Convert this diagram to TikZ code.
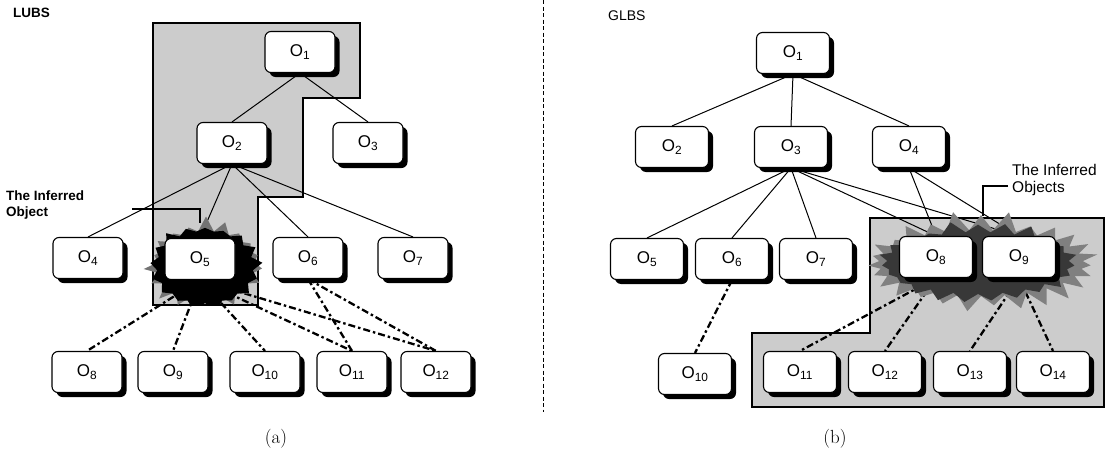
\documentclass[tikz,border=0pt]{standalone}
\usepackage{fontspec}
\newfontfamily\arial{Liberation Sans}
\usetikzlibrary{shapes.symbols,shadows}
\pgfdeclarelayer{bg}
\pgfdeclarelayer{edges}
\pgfdeclarelayer{burst}
\pgfsetlayers{bg,edges,burst,main}
\begin{document}
\begin{tikzpicture}[x=1pt,y=-1pt,
  obj/.style={draw=black,line width=1.1pt,fill=white,rounded corners=6pt,
    minimum width=70pt,minimum height=41pt,inner sep=0pt,
    font=\arial\fontsize{17}{17}\selectfont,
    drop shadow={shadow xshift=4.5pt,shadow yshift=-4.5pt,fill=black,opacity=1}},
  wide/.style={minimum width=73pt},
  tree/.style={line width=1pt},
  inh/.style={line width=2.3pt,dash pattern=on 7pt off 3pt on 2.5pt off 3pt},
  region/.style={draw=black,line width=1.6pt,fill=black!20},
  callout/.style={line width=1.6pt},
  lbl/.style={font=\arial\bfseries\fontsize{13.5}{16.5}\selectfont,align=left,inner sep=0pt,anchor=west},
  lblr/.style={font=\arial\fontsize{15.5}{16.5}\selectfont,align=left,inner sep=0pt,anchor=west},
  titletext/.style={inner sep=0pt,anchor=west},
  captext/.style={font=\fontsize{19}{19}\selectfont,inner sep=0pt},
  burstout/.style={starburst,draw=none,inner sep=0pt},
]
\useasboundingbox (0,0) rectangle (1105,455);

% ---------- texts ----------
\node[titletext,font=\arial\bfseries\fontsize{13.5}{13}\selectfont] (lubs) at (13,13) {LUBS};
\node[titletext,font=\arial\fontsize{14}{13}\selectfont] (glbs) at (608,16) {GLBS};
\node[lbl] (infA) at (6,205) {The Inferred\\Object};
\node[lblr] (infB) at (1012,180) {The Inferred\\Objects};
\node[captext] (capa) at (276,439) {(a)};
\node[captext] (capb) at (835,439) {(b)};

% ---------- left tree nodes ----------
\node[obj] (a1) at (300,52) {O\textsubscript{1}};
\node[obj] (a2) at (232,143) {O\textsubscript{2}};
\node[obj] (a3) at (368,143) {O\textsubscript{3}};
\node[obj] (a4) at (88,258) {O\textsubscript{4}};
\node[obj] (a5) at (200,259) {O\textsubscript{5}};
\node[obj] (a6) at (308,258) {O\textsubscript{6}};
\node[obj] (a7) at (413,258) {O\textsubscript{7}};
\node[obj] (a8) at (87,372) {O\textsubscript{8}};
\node[obj] (a9) at (173,372) {O\textsubscript{9}};
\node[obj] (a10) at (265,372) {O\textsubscript{10}};
\node[obj] (a11) at (352,372) {O\textsubscript{11}};
\node[obj] (a12) at (436,372) {O\textsubscript{12}};

% ---------- right tree nodes ----------
\node[obj,wide] (b1) at (793,53) {O\textsubscript{1}};
\node[obj,wide] (b2) at (672,147) {O\textsubscript{2}};
\node[obj,wide] (b3) at (791,147) {O\textsubscript{3}};
\node[obj,wide] (b4) at (909,147) {O\textsubscript{4}};
\node[obj,wide] (b5) at (647,259) {O\textsubscript{5}};
\node[obj,wide] (b6) at (732,259) {O\textsubscript{6}};
\node[obj,wide] (b7) at (816,259) {O\textsubscript{7}};
\node[obj,wide] (b8) at (936,257) {O\textsubscript{8}};
\node[obj,wide] (b9) at (1019,257) {O\textsubscript{9}};
\node[obj,wide] (b10) at (695,374) {O\textsubscript{10}};
\node[obj,wide] (b11) at (800,372) {O\textsubscript{11}};
\node[obj,wide] (b12) at (885,372) {O\textsubscript{12}};
\node[obj,wide] (b13) at (970,372) {O\textsubscript{13}};
\node[obj,wide] (b14) at (1053,372) {O\textsubscript{14}};

% ---------- shaded regions ----------
\begin{pgfonlayer}{bg}
  \draw[region] (153,23) -- (360,23) -- (360,98) -- (303,98) -- (303,197)
    -- (258,197) -- (258,305) -- (153,305) -- cycle;
  \draw[region] (870,218) -- (1104,218) -- (1104,407) -- (752,407)
    -- (752,333) -- (870,333) -- cycle;
  \draw[line width=1.2pt,dash pattern=on 4pt off 2.5pt] (543.5,0) coordinate (sepT) -- (543.5,412) coordinate (sepB);
\end{pgfonlayer}

% ---------- connectors ----------
\begin{pgfonlayer}{edges}
  \draw[tree] (a1.south) -- (a2.north);
  \draw[tree] (a1.south) -- (a3.north);
  \foreach \t in {a4,a5,a6,a7} \draw[tree] (a2.south) -- (\t.north);
  \foreach \t in {a8,a9,a10,a11,a12} \draw[inh] (a5.south) -- (\t.north);
  \draw[inh] (a6.south) -- (a11.north);
  \draw[inh] (a6.south) -- (a12.north);

  \foreach \t in {b2,b3,b4} \draw[tree] (b1.south) -- (\t.north);
  \foreach \t in {b5,b6,b7,b8,b9} \draw[tree] (b3.south) -- (\t.north);
  \draw[tree] (b4.south) -- (b8.north);
  \draw[tree] (b4.south) -- (b9.north);
  \draw[inh] (b6.south) -- (b10.north);
  \draw[inh] (b8.south) -- (b11.north);
  \draw[inh] (b8.south) -- (b12.north);
  \draw[inh] (b9.south) -- (b13.north);
  \draw[inh] (b9.south) -- (b14.north);
\end{pgfonlayer}

% ---------- starbursts ----------
\begin{pgfonlayer}{burst}
  \begin{scope}
    \clip (0,0) rectangle (540,305);
    \node[burstout,fill=black!55,minimum width=128pt,minimum height=100pt,
      starburst points=19,starburst point height=16pt,random starburst=7] (burstA) at (206,265) {};
    \node[burstout,fill=black,minimum width=116pt,minimum height=92pt,
      starburst points=17,starburst point height=10pt,random starburst=3] (burstA2) at (205,267) {};
  \end{scope}
  \node[burstout,fill=black!50,minimum width=244pt,minimum height=106pt,
    starburst points=27,starburst point height=20pt,random starburst=11] (burstB) at (981,263) {};
  \node[burstout,fill=black!78,minimum width=206pt,minimum height=86pt,
    starburst points=23,starburst point height=12pt,random starburst=5] (burstB2) at (978,263) {};
  \draw[callout] (132,209) -- (200,209) -- (200,223) coordinate (tipA);
  \draw[callout] (1008,186) -- (983,186) -- (983,216) coordinate (tipB);
\end{pgfonlayer}
\end{tikzpicture}
\end{document}
